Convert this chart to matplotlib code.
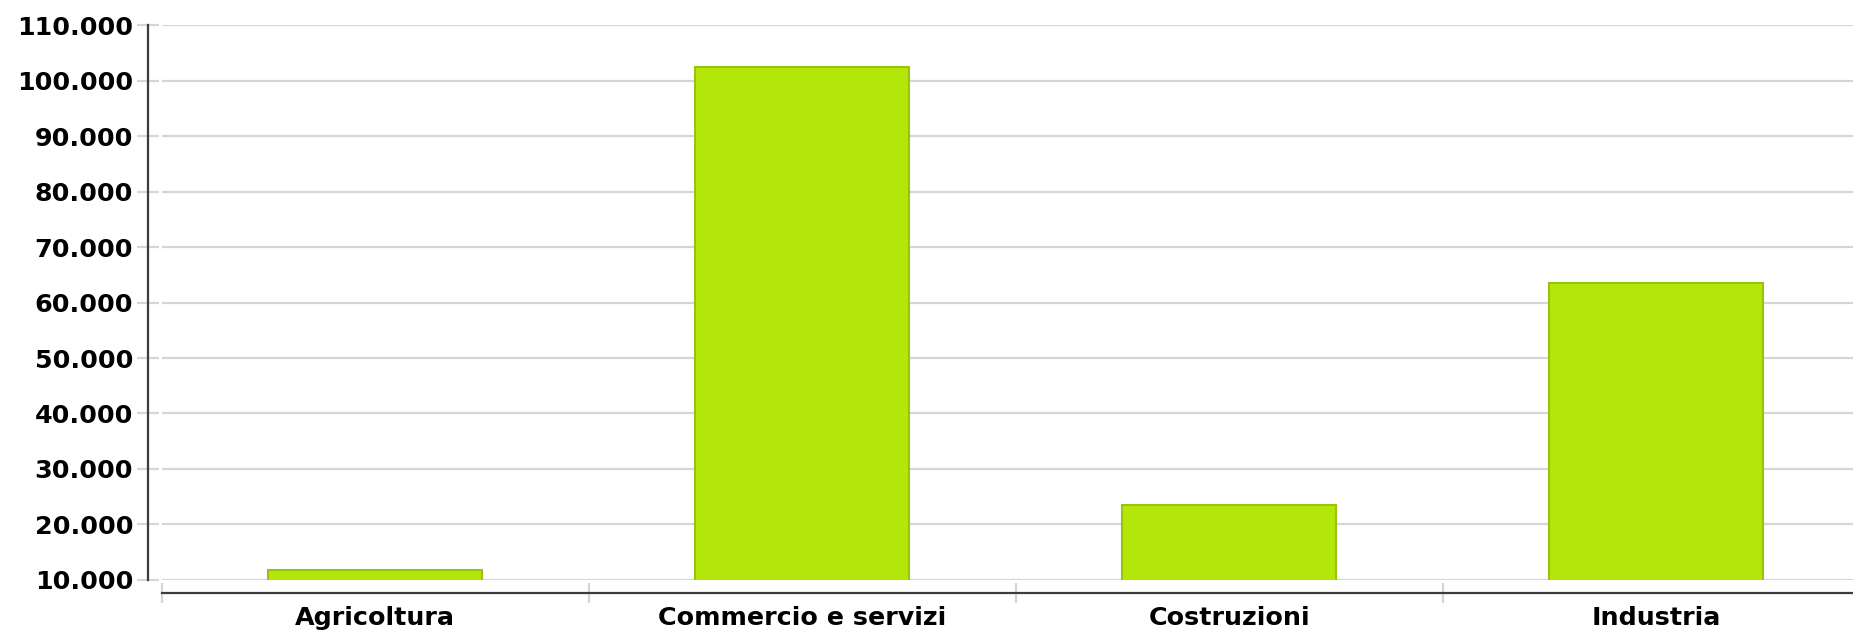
import matplotlib
matplotlib.use("Agg")
import matplotlib.pyplot as plt
from matplotlib.ticker import FuncFormatter, FixedLocator
import numpy as np

categories = ["Agricoltura", "Commercio e servizi", "Costruzioni", "Industria"]
values = [11800, 102400, 23600, 63500]
y_ticks = [10000, 20000, 30000, 40000, 50000, 60000, 70000, 80000, 90000, 100000, 110000]

BAR_COLOR = "#b5e60a"
EDGE_COLOR = "#98c40c"
GRID_COLOR = "#d6d6d6"
AXIS_COLOR = "#3c3c3c"

plt.rcParams['font.family'] = ['DejaVu Sans']
plt.rcParams['font.weight'] = 'bold'

fig = plt.figure(figsize=(18.53, 6.32), dpi=100)
ax = fig.add_axes([0.0872, 0.0823, 0.9218, 0.8781])

x = np.arange(len(categories))
ax.bar(x, values, width=0.5, color=BAR_COLOR, edgecolor=EDGE_COLOR, linewidth=1.5, zorder=3)

ax.set_xlim(-0.5, len(categories) - 0.5)
ax.set_ylim(10000, 110000)

# y axis
ax.set_yticks(y_ticks)
ax.yaxis.set_major_formatter(FuncFormatter(lambda v, p: f"{v:,.0f}".replace(",", ".")))
ax.grid(axis='y', color=GRID_COLOR, linewidth=1.6, zorder=0)
ax.tick_params(axis='y', direction='inout', length=16, width=1.6, color=GRID_COLOR,
               pad=3, labelsize=18.3)

# x axis: labels at centres, tick marks at category boundaries
ax.set_xticks(x)
ax.set_xticklabels(categories)
ax.xaxis.set_minor_locator(FixedLocator(np.arange(len(categories) + 1) - 0.5))
ax.tick_params(axis='x', which='major', length=0, pad=9.5, labelsize=18.3)
ax.tick_params(axis='x', which='minor', direction='inout', length=14.5, width=1.6,
               color=GRID_COLOR)

ax.spines['top'].set_visible(False)
ax.spines['right'].set_visible(False)
ax.spines['left'].set_position(('outward', 9.5))
ax.spines['bottom'].set_position(('outward', 9.5))
ax.spines['left'].set_color(AXIS_COLOR)
ax.spines['bottom'].set_color(AXIS_COLOR)
ax.spines['left'].set_linewidth(1.6)
ax.spines['bottom'].set_linewidth(1.6)

fig.savefig("out.png", dpi=100)
